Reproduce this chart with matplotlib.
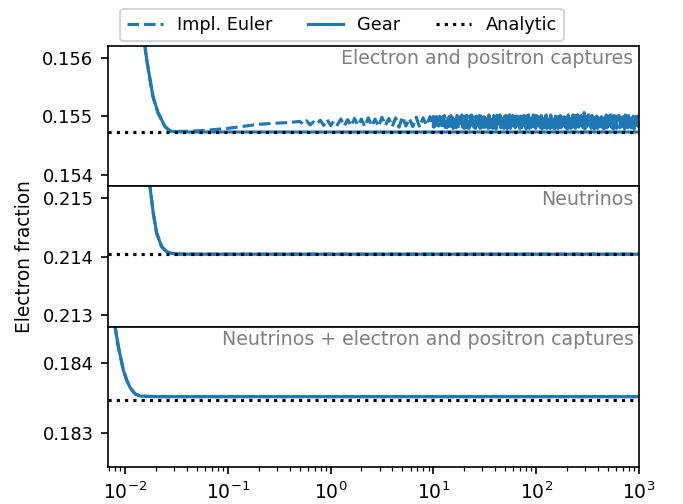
import numpy as np
import matplotlib
matplotlib.use("Agg")
import matplotlib.pyplot as plt

# ---------------- data ----------------
panel_titles = ["Electron and positron captures", "Neutrinos",
                "Neutrinos + electron and positron captures"]
legend_labels = ["Impl. Euler", "Gear", "Analytic"]

# Panel 1: electron and positron captures
t1_decay = [0.0140, 0.01565, 0.01626, 0.0175, 0.0187, 0.0209, 0.0245, 0.0274,
            0.032, 0.04, 0.06, 0.1, 0.15, 0.2, 0.3, 0.4]
gear1_decay = [0.15680, 0.156188, 0.155966, 0.155624, 0.155333, 0.155060, 0.154821,
               0.154745, 0.154730, 0.154728, 0.154728, 0.154728, 0.154728, 0.154728,
               0.154728, 0.154728]
euler1_decay = [0.15680, 0.156188, 0.155966, 0.155624, 0.155333, 0.155060, 0.154821,
                0.154745, 0.154738, 0.154740, 0.154755, 0.154790, 0.154830, 0.154860,
                0.154880, 0.154890]
t1_mid = np.logspace(-0.3, 1.0, 40)
euler1_mid = [
    0.15491, 0.15486, 0.15492, 0.15485, 0.15490, 0.15486, 0.15493, 0.15484, 0.15494, 0.15484,
    0.15492, 0.15485, 0.15495, 0.15483, 0.15494, 0.15483, 0.15496, 0.15484, 0.15495, 0.15482,
    0.15497, 0.15483, 0.15495, 0.15482, 0.15498, 0.15484, 0.15496, 0.15482, 0.15497, 0.15481,
    0.15499, 0.15483, 0.15496, 0.15482, 0.15498, 0.15481, 0.15497, 0.15484, 0.15499, 0.15482]
t1_late = np.logspace(1.0, 3.0, 260)
euler1_late = [
    0.15504, 0.15481, 0.15498, 0.15486, 0.15499, 0.15480, 0.15493, 0.15483, 0.15500, 0.15481,
    0.15496, 0.15480, 0.15499, 0.15487, 0.15501, 0.15481, 0.15494, 0.15480, 0.15500, 0.15484,
    0.15499, 0.15480, 0.15501, 0.15485, 0.15498, 0.15479, 0.15495, 0.15482, 0.15499, 0.15480,
    0.15501, 0.15479, 0.15492, 0.15481, 0.15499, 0.15486, 0.15502, 0.15481, 0.15497, 0.15479,
    0.15500, 0.15482, 0.15501, 0.15480, 0.15494, 0.15479, 0.15500, 0.15485, 0.15502, 0.15480,
    0.15499, 0.15481, 0.15496, 0.15479, 0.15500, 0.15484, 0.15498, 0.15481, 0.15501, 0.15479,
    0.15500, 0.15480, 0.15493, 0.15478, 0.15499, 0.15481, 0.15501, 0.15486, 0.15500, 0.15479,
    0.15502, 0.15480, 0.15495, 0.15481, 0.15500, 0.15479, 0.15501, 0.15484, 0.15499, 0.15478,
    0.15501, 0.15481, 0.15500, 0.15487, 0.15502, 0.15480, 0.15494, 0.15481, 0.15501, 0.15479,
    0.15500, 0.15485, 0.15501, 0.15478, 0.15496, 0.15481, 0.15502, 0.15479, 0.15500, 0.15483,
    0.15501, 0.15479, 0.15499, 0.15480, 0.15502, 0.15486, 0.15500, 0.15481, 0.15493, 0.15479,
    0.15500, 0.15480, 0.15502, 0.15484, 0.15501, 0.15480, 0.15499, 0.15478, 0.15501, 0.15485,
    0.15502, 0.15479, 0.15496, 0.15481, 0.15501, 0.15478, 0.15502, 0.15486, 0.15500, 0.15479,
    0.15501, 0.15480, 0.15499, 0.15483, 0.15502, 0.15480, 0.15501, 0.15478, 0.15494, 0.15480,
    0.15500, 0.15481, 0.15502, 0.15479, 0.15497, 0.15484, 0.15501, 0.15479, 0.15502, 0.15480,
    0.15499, 0.15487, 0.15501, 0.15478, 0.15500, 0.15481, 0.15495, 0.15479, 0.15502, 0.15482,
    0.15501, 0.15480, 0.15500, 0.15485, 0.15502, 0.15479, 0.15498, 0.15480, 0.15501, 0.15478,
    0.15502, 0.15483, 0.15500, 0.15479, 0.15496, 0.15481, 0.15502, 0.15486, 0.15501, 0.15479,
    0.15500, 0.15478, 0.15502, 0.15481, 0.15499, 0.15484, 0.15501, 0.15479, 0.15497, 0.15480,
    0.15506, 0.15478, 0.15501, 0.15482, 0.15500, 0.15480, 0.15502, 0.15485, 0.15499, 0.15479,
    0.15501, 0.15480, 0.15494, 0.15478, 0.15502, 0.15482, 0.15500, 0.15479, 0.15501, 0.15486,
    0.15502, 0.15479, 0.15499, 0.15481, 0.15501, 0.15478, 0.15497, 0.15483, 0.15502, 0.15480,
    0.15500, 0.15484, 0.15501, 0.15479, 0.15502, 0.15480, 0.15495, 0.15478, 0.15501, 0.15482,
    0.15502, 0.15479, 0.15500, 0.15486, 0.15501, 0.15480, 0.15502, 0.15479, 0.15498, 0.15481,
    0.15501, 0.15478, 0.15502, 0.15483, 0.15500, 0.15480, 0.15501, 0.15479, 0.15496, 0.15480,
    0.15502, 0.15481, 0.15500, 0.15478, 0.15501, 0.15485, 0.15502, 0.15479, 0.15500, 0.15480]
gear1_late = [0.154728, 0.154728]
t1_gear_late = [0.5, 1000.0]
analytic1 = 0.154726

# Panel 2: neutrinos
t2 = [0.0160, 0.0175, 0.01884, 0.02033, 0.02275, 0.02546, 0.0285, 0.03185, 0.05, 0.1,
      1.0, 10.0, 100.0, 1000.0]
gear2 = [0.21560, 0.215193, 0.214738, 0.214397, 0.214168, 0.214082, 0.214055, 0.214043,
         0.214040, 0.214040, 0.214040, 0.214040, 0.214040, 0.214040]
euler2 = [0.21560, 0.215193, 0.214738, 0.214397, 0.214168, 0.214082, 0.214055, 0.214043,
          0.214040, 0.214040, 0.214040, 0.214040, 0.214040, 0.214040]
analytic2 = 0.214040

# Panel 3: neutrinos + captures
t3 = [0.0068, 0.0080, 0.00861, 0.00963, 0.01040, 0.01119, 0.0125, 0.0140, 0.02, 0.1,
      1.0, 10.0, 100.0, 1000.0]
gear3 = [0.18500, 0.184510, 0.184227, 0.183897, 0.183750, 0.183650, 0.183560, 0.183528,
         0.183520, 0.183520, 0.183520, 0.183520, 0.183520, 0.183520]
euler3 = [0.18500, 0.184510, 0.184227, 0.183897, 0.183750, 0.183650, 0.183560, 0.183528,
          0.183520, 0.183520, 0.183520, 0.183520, 0.183520, 0.183520]
analytic3 = 0.183475

yticks = [[0.154, 0.155, 0.156], [0.213, 0.214, 0.215], [0.183, 0.184]]
ylims = [(0.1538, 0.1562), (0.2128, 0.2152), (0.18252, 0.18451)]
xlim = (0.00684, 1000.0)

# ---------------- figure ----------------
fig, axes = plt.subplots(3, 1, sharex=True, figsize=(4.56, 3.36), dpi=150)
fig.subplots_adjust(left=0.158, right=0.934, top=0.909, bottom=0.073, hspace=0.0)

blue = "#1f77b4"
LW = 1.5

# panel 1
ax = axes[0]
t_e1 = list(t1_decay) + list(t1_mid) + list(t1_late)
v_e1 = list(euler1_decay) + list(euler1_mid) + list(euler1_late)
h_e, = ax.plot(t_e1, v_e1, ls="--", color=blue, lw=LW)
t_g1 = list(t1_decay) + list(t1_gear_late)
v_g1 = list(gear1_decay) + list(gear1_late)
h_g, = ax.plot(t_g1, v_g1, ls="-", color=blue, lw=LW)
h_a = ax.axhline(analytic1, ls=":", color="black", lw=1.5)

# panel 2
ax = axes[1]
ax.plot(t2, euler2, ls="--", color=blue, lw=LW)
ax.plot(t2, gear2, ls="-", color=blue, lw=LW)
ax.axhline(analytic2, ls=":", color="black", lw=1.5)

# panel 3
ax = axes[2]
ax.plot(t3, euler3, ls="--", color=blue, lw=LW)
ax.plot(t3, gear3, ls="-", color=blue, lw=LW)
ax.axhline(analytic3, ls=":", color="black", lw=1.5)

for ax, title, yt, yl in zip(axes, panel_titles, yticks, ylims):
    ax.set_xscale("log")
    ax.set_xlim(*xlim)
    ax.set_ylim(*yl)
    ax.set_yticks(yt)
    ax.set_yticklabels([f"{v:.3f}" for v in yt])
    ax.tick_params(axis="y", labelsize=8.6)
    ax.text(0.99, 0.975, title, transform=ax.transAxes, ha="right", va="top",
            color="gray", fontsize=9.1)

axes[2].tick_params(axis="x", labelsize=9)
axes[1].set_ylabel("Electron fraction", fontsize=8.9)

fig.legend([h_e, h_g, h_a], legend_labels, loc="upper center", ncol=3, fontsize=8.5,
           bbox_to_anchor=(0.5, 1.0))

fig.savefig("out.png", dpi=150)
